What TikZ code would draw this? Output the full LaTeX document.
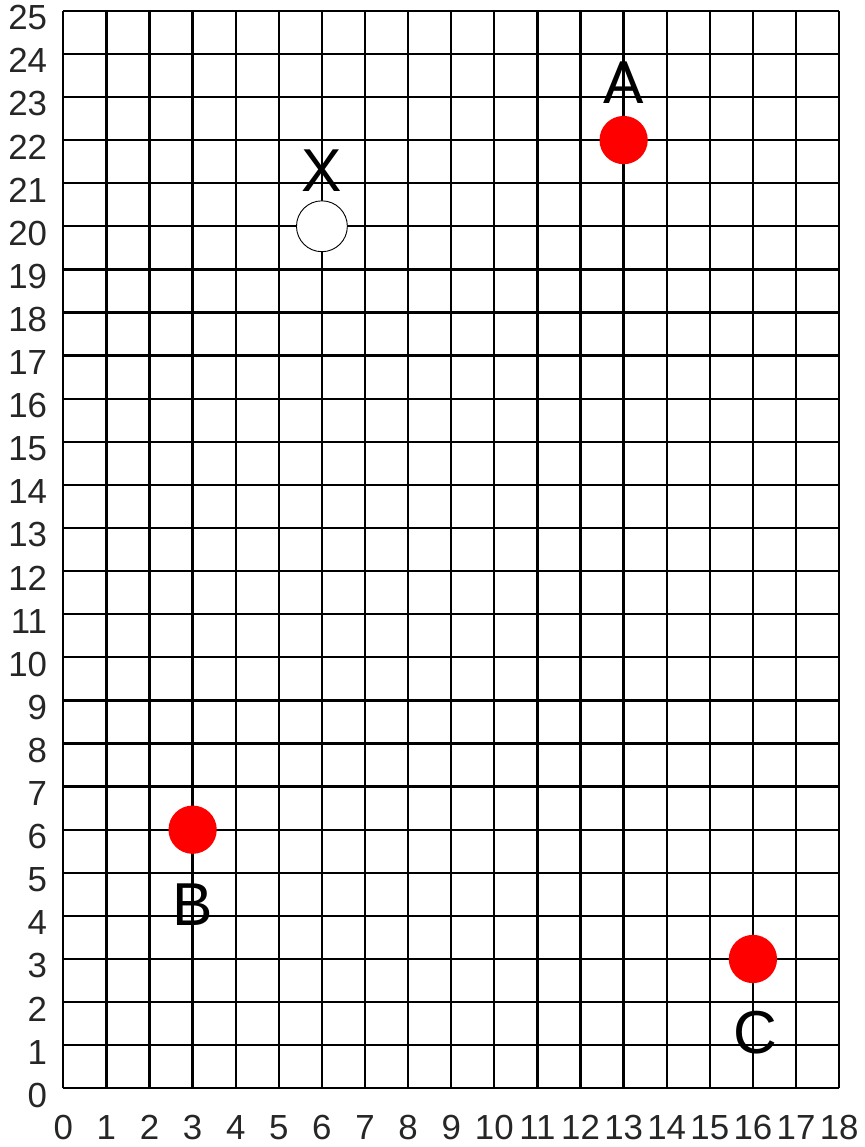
\documentclass[tikz,border=0pt]{standalone}
\usepackage{fontspec}
\setmainfont{Liberation Sans}
\begin{document}
\begin{tikzpicture}[x=1cm,y=1cm,
  gridline/.style={line width=1.5pt,black},
  numlbl/.style={font=\fontsize{23}{23}\selectfont,inner sep=0pt,text=black!85},
  ptlbl/.style={font=\fontsize{40}{40}\selectfont,inner sep=0pt},
  reddot/.style={circle,fill=red,draw=none,minimum size=1.12cm,inner sep=0pt},
  whitedot/.style={circle,fill=white,draw=black,line width=0.6pt,minimum size=1.18cm,inner sep=0pt}]
\useasboundingbox[fill=white] (-1.469,-1.362) rectangle (18.60,25.25);
\draw[gridline] (0,0) grid (18,25);
\foreach \i in {0,...,18} {\node[numlbl,anchor=base] (xl\i) at (\i,-1.19) {\i};}
\foreach \j in {0,...,25} {\node[numlbl,anchor=base east] (yl\j) at (-0.37,\j-0.44) {\j};}
\node[reddot] (A) at (13,22) {};
\node[reddot] (B) at (3,6) {};
\node[reddot] (C) at (16,3) {};
\node[whitedot] (X) at (6,20) {};
\node[ptlbl] (lA) at (13,23.33) {A};
\node[ptlbl] (lB) at (3,4.25) {B};
\node[ptlbl] (lC) at (16.05,1.28) {C};
\node[ptlbl] (lX) at (6,21.3) {X};
\end{tikzpicture}
\end{document}
